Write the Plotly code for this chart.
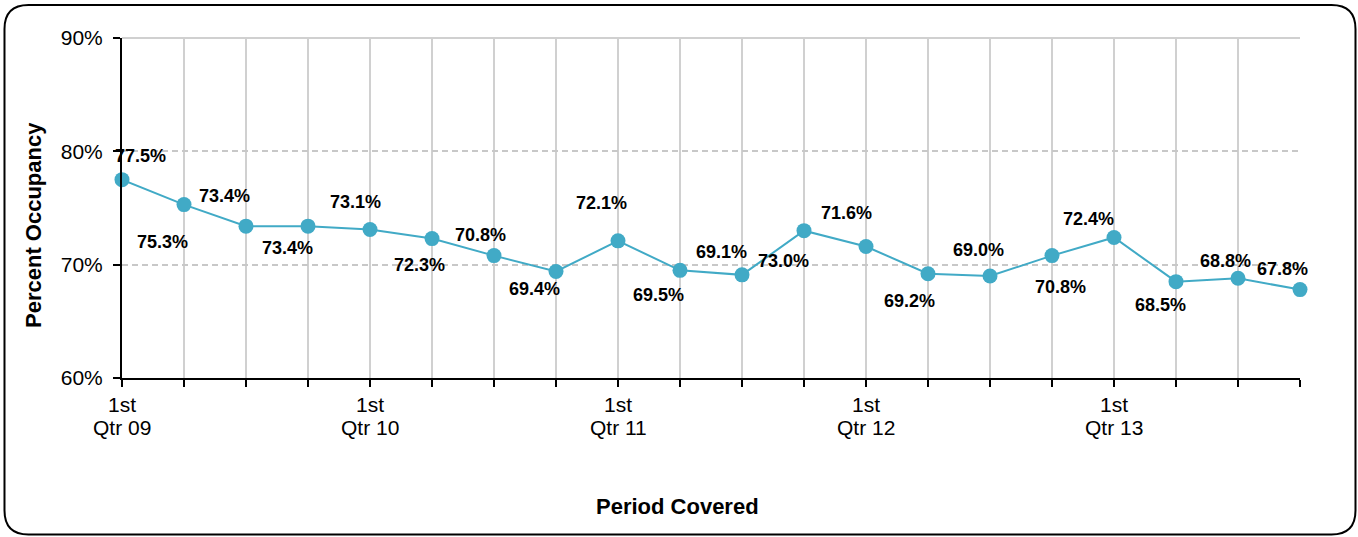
import plotly.graph_objects as go

periods = ["1st Qtr 09", "2nd Qtr 09", "3rd Qtr 09", "4th Qtr 09",
           "1st Qtr 10", "2nd Qtr 10", "3rd Qtr 10", "4th Qtr 10",
           "1st Qtr 11", "2nd Qtr 11", "3rd Qtr 11", "4th Qtr 11",
           "1st Qtr 12", "2nd Qtr 12", "3rd Qtr 12", "4th Qtr 12",
           "1st Qtr 13", "2nd Qtr 13", "3rd Qtr 13", "4th Qtr 13"]
occupancy = [77.5, 75.3, 73.4, 73.4, 73.1, 72.3, 70.8, 69.4, 72.1, 69.5,
             69.1, 73.0, 71.6, 69.2, 69.0, 70.8, 72.4, 68.5, 68.8, 67.8]
tick_line1 = ["1st", "", "", "", "1st", "", "", "", "1st", "", "", "",
              "1st", "", "", "", "1st", "", "", ""]
tick_line2 = ["Qtr 09", "", "", "", "Qtr 10", "", "", "", "Qtr 11", "", "", "",
              "Qtr 12", "", "", "", "Qtr 13", "", "", ""]

# label offsets in pixels (dx right, dy down)
label_dx = [18, -22, -22, -21, -15, -13, -14, -22, -17, -22,
            -21, -21, -20, -19, -12, 8, -26, -16, -13, -18]
label_dy = [-24, 37, -30, 22, -28, 26, -21, 18, -38, 25,
            -23, 30, -34, 27, -26, 31, -18, 23, -17, -21]

W, H = 1358, 537
L, R, T, B = 122, 58, 38, 159
PW, PH = W - L - R, H - T - B
FONT = "Liberation Sans, Arial"

def px_x(px):
    return (px - L) / PW

def px_y(py):
    return (H - B - py) / PH

xs = list(range(len(periods)))
color = "#41AAC6"

fig = go.Figure()
fig.add_trace(go.Scatter(
    x=xs, y=occupancy, mode="lines+markers",
    line=dict(color=color, width=2),
    marker=dict(color=color, size=15),
    text=periods, hovertemplate="%{text}: %{y:.1f}%<extra></extra>",
    showlegend=False, cliponaxis=False,
))

annotations = []
for i, v in enumerate(occupancy):
    annotations.append(dict(
        x=xs[i], y=v, xref="x", yref="y", text=f"<b>{v:.1f}%</b>",
        showarrow=False, xshift=label_dx[i], yshift=-label_dy[i],
        font=dict(family=FONT, size=18, color="black"),
    ))

# second line of the category labels
for i, t in enumerate(tick_line2):
    if t:
        annotations.append(dict(
            x=xs[i], y=px_y(427), xref="x", yref="paper", text=t,
            showarrow=False, xanchor="center", yanchor="middle",
            font=dict(family=FONT, size=21, color="black"),
        ))

annotations.append(dict(
    x=px_x(677), y=px_y(506), xref="paper", yref="paper",
    text="<b>Period Covered</b>", showarrow=False,
    xanchor="center", yanchor="middle",
    font=dict(family=FONT, size=22, color="black"),
))
annotations.append(dict(
    x=px_x(33), y=px_y(225), xref="paper", yref="paper",
    text="<b>Percent Occupancy</b>", showarrow=False, textangle=-90,
    xanchor="center", yanchor="middle",
    font=dict(family=FONT, size=22, color="black"),
))

# rounded outer border
x0, x1, y0, y1, r = 4.5, 1355.5, 5, 534.5, 24
def P(px, py):
    return f"{px_x(px):.5f},{px_y(py):.5f}"
path = (f"M {P(x0 + r, y0)} L {P(x1 - r, y0)} Q {P(x1, y0)} {P(x1, y0 + r)} "
        f"L {P(x1, y1 - r)} Q {P(x1, y1)} {P(x1 - r, y1)} "
        f"L {P(x0 + r, y1)} Q {P(x0, y1)} {P(x0, y1 - r)} "
        f"L {P(x0, y0 + r)} Q {P(x0, y0)} {P(x0 + r, y0)} Z")

shapes = [
    dict(type="path", path=path, xref="paper", yref="paper",
         line=dict(color="black", width=2), layer="above"),
    dict(type="line", xref="paper", yref="paper", x0=0, x1=1, y0=1, y1=1,
         line=dict(color="#D0D0D0", width=2), layer="below"),
]

fig.update_layout(
    width=W, height=H, autosize=False,
    margin=dict(l=L, r=R, t=T, b=B),
    paper_bgcolor="white", plot_bgcolor="white",
    font=dict(family=FONT, size=21, color="black"),
    annotations=annotations, shapes=shapes,
    xaxis=dict(
        range=[0, len(periods) - 1], tickvals=xs, ticktext=tick_line1,
        showgrid=True, gridcolor="#D0D0D0", gridwidth=2,
        showline=True, linecolor="black", linewidth=2,
        ticks="outside", ticklen=7, tickwidth=2, tickcolor="black",
        tickfont=dict(size=21), zeroline=False, fixedrange=True,
    ),
    yaxis=dict(
        range=[60, 90], dtick=10, tick0=60, ticksuffix="%",
        showgrid=True, gridcolor="#C8C8C8", gridwidth=1.5, griddash="6px,4px",
        showline=True, linecolor="black", linewidth=2,
        ticks="outside", ticklen=7, tickwidth=2, tickcolor="black",
        tickfont=dict(size=21), zeroline=False, fixedrange=True,
        ticklabelstandoff=6,
    ),
)

fig.write_html("out.html", config={"displayModeBar": False},
               post_script="document.body.style.margin='0';document.body.style.overflow='hidden';")
